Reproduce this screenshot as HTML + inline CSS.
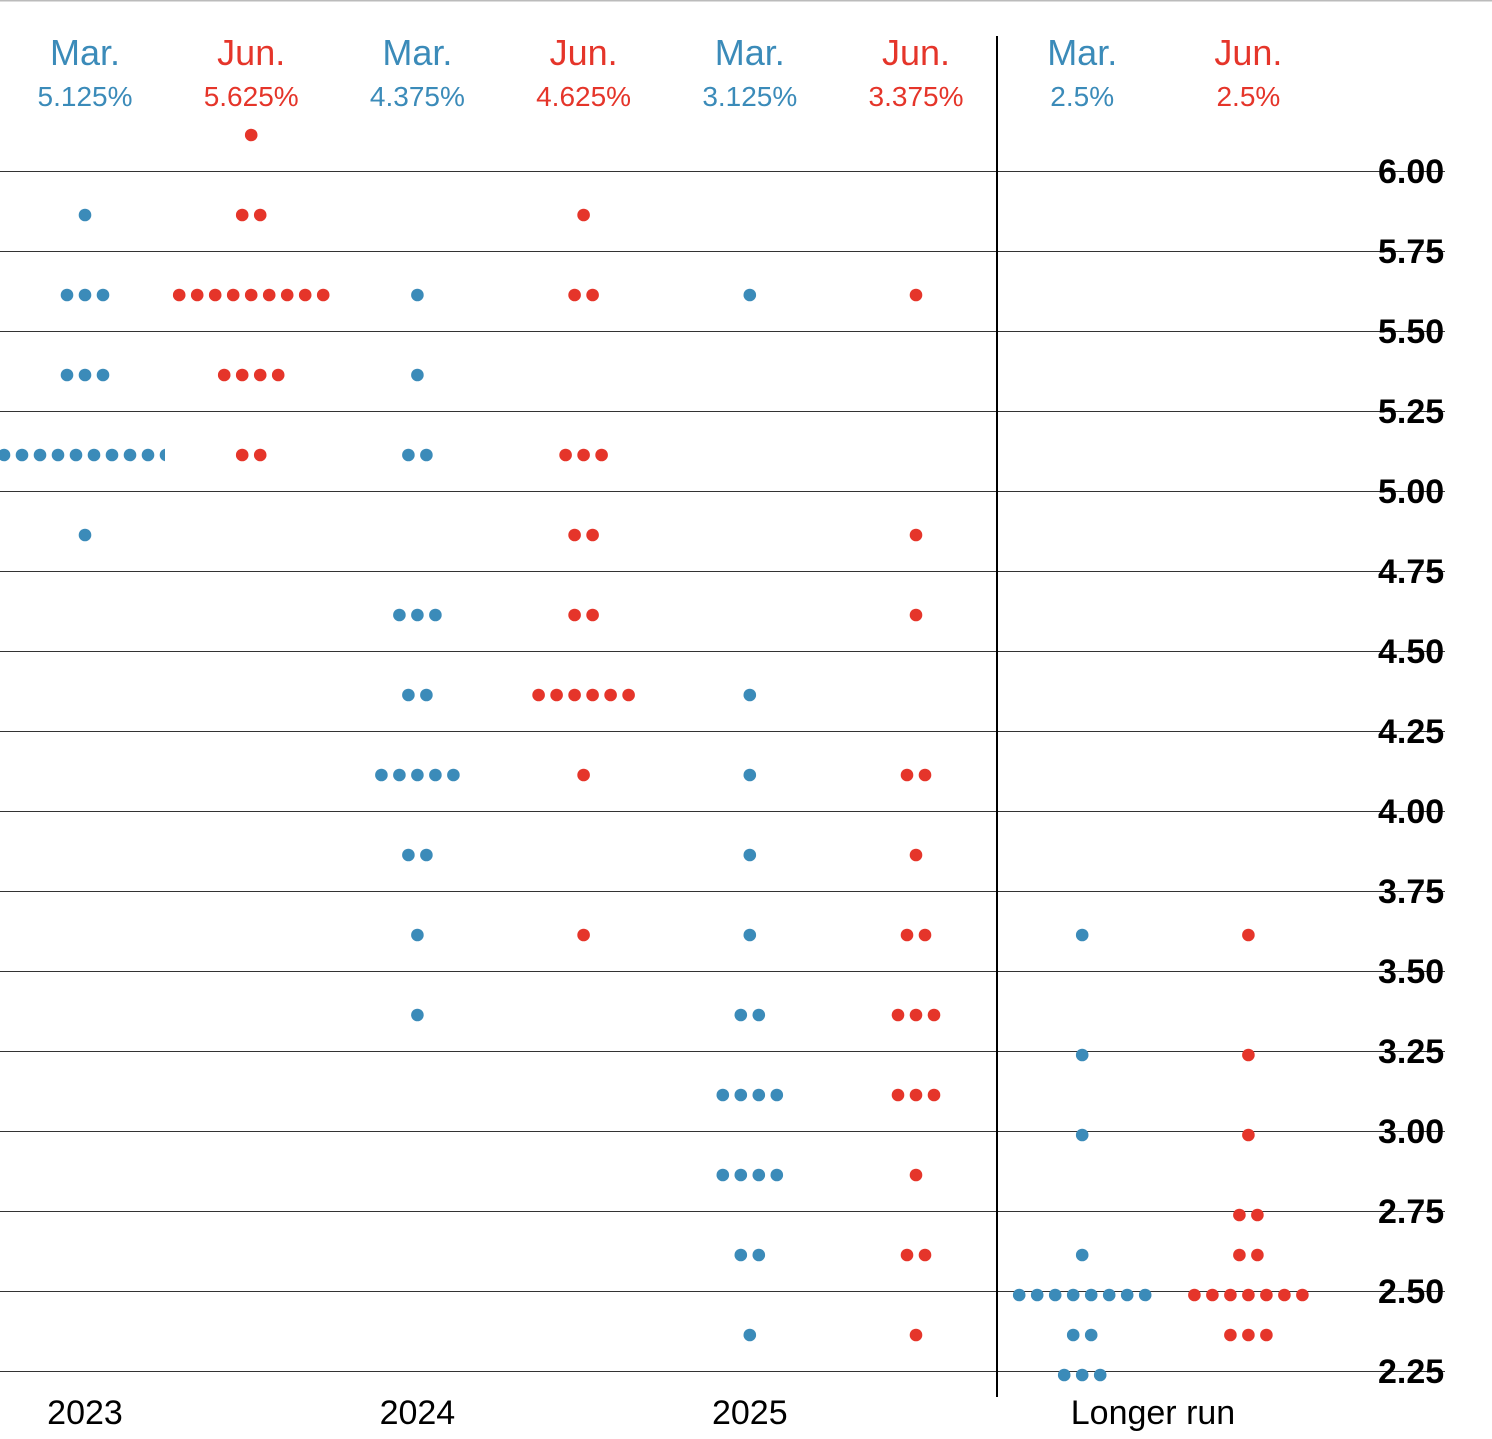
<!DOCTYPE html>
<html><head><meta charset="utf-8"><style>
html,body{margin:0;padding:0;background:#fff;}
body{width:1492px;height:1434px;overflow:hidden;font-family:"Liberation Sans",sans-serif;}
</style></head><body>
<svg id="chart" width="1492" height="1434" xmlns="http://www.w3.org/2000/svg">
<defs><clipPath id="c1"><rect x="0" y="0" width="165" height="1434"/></clipPath></defs>
<line x1="0" y1="0.5" x2="1492" y2="0.5" stroke="#bbb" stroke-width="2"/>
<g id="grid"></g><g id="dots"></g><g id="heads"></g>
<line x1="997" y1="36" x2="997" y2="1397" stroke="#000" stroke-width="2"/>
</svg>
<script>
const ticks=[6.00,5.75,5.50,5.25,5.00,4.75,4.50,4.25,4.00,3.75,3.50,3.25,3.00,2.75,2.50,2.25];
const colMonths=["Mar.","Jun.","Mar.","Jun.","Mar.","Jun.","Mar.","Jun."];
const colMedians=["5.125%","5.625%","4.375%","4.625%","3.125%","3.375%","2.5%","2.5%"];
const yearLabels=["2023","2024","2025","Longer run"];
const col0=[[5.875,1],[5.625,3],[5.375,3],[5.125,10],[4.875,1]];
const col1=[[6.125,1],[5.875,2],[5.625,9],[5.375,4],[5.125,2]];
const col2=[[5.625,1],[5.375,1],[5.125,2],[4.625,3],[4.375,2],[4.125,5],[3.875,2],[3.625,1],[3.375,1]];
const col3=[[5.875,1],[5.625,2],[5.125,3],[4.875,2],[4.625,2],[4.375,6],[4.125,1],[3.625,1]];
const col4=[[5.625,1],[4.375,1],[4.125,1],[3.875,1],[3.625,1],[3.375,2],[3.125,4],[2.875,4],[2.625,2],[2.375,1]];
const col5=[[5.625,1],[4.875,1],[4.625,1],[4.125,2],[3.875,1],[3.625,2],[3.375,3],[3.125,3],[2.875,1],[2.625,2],[2.375,1]];
const col6=[[3.625,1],[3.25,1],[3.0,1],[2.625,1],[2.5,8],[2.375,2],[2.25,3]];
const col7=[[3.625,1],[3.25,1],[3.0,1],[2.75,2],[2.625,2],[2.5,7],[2.375,3]];
const cols=[col0,col1,col2,col3,col4,col5,col6,col7];
const BLUE="#3b8bb9",RED="#e5352a",NS="http://www.w3.org/2000/svg";
const y=v=>175+(6-v)*320;
const x=i=>85+i*166.2;
function mk(t,a,p){const e=document.createElementNS(NS,t);for(const k in a)e.setAttribute(k,a[k]);p.appendChild(e);return e;}
const grid=document.getElementById('grid');
ticks.forEach(v=>{
 const l=mk('line',{x1:0,x2:1445,y1:y(v)-3.5,y2:y(v)-3.5,stroke:'#333','stroke-width':1},grid);
 
 
 const t=mk('text',{x:1378,y:y(v)+8,'font-size':34,fill:'#000','font-weight':'bold'},grid);
 t.textContent=v.toFixed(2);
 
 
});
const dots=document.getElementById('dots');
cols.forEach((c,i)=>{
 const g=mk('g',i===0?{'clip-path':'url(#c1)'}:{},dots);
 
 
 c.forEach(([v,n])=>{for(let k=0;k<n;k++){
  const d=mk('circle',{cx:x(i)+(k-(n-1)/2)*18,cy:y(v),r:6.3,fill:i%2?RED:BLUE},g);
  
  
 }});
});
const heads=document.getElementById('heads');
colMonths.forEach((m,i)=>{
 const col=i%2?RED:BLUE;
 const a=mk('text',{x:x(i),y:65,'text-anchor':'middle','font-size':36,fill:col},heads);
 a.textContent=m;
 
 
 const b=mk('text',{x:x(i),y:106,'text-anchor':'middle','font-size':28,fill:col},heads);
 b.textContent=colMedians[i];
 
 
});
yearLabels.forEach((t,i)=>{
 const e=mk('text',{x:i<3?x(i*2):1153,y:1424,'text-anchor':'middle','font-size':34,fill:'#000'},heads);
 e.textContent=t;
 
 
});
</script>
</body></html>
